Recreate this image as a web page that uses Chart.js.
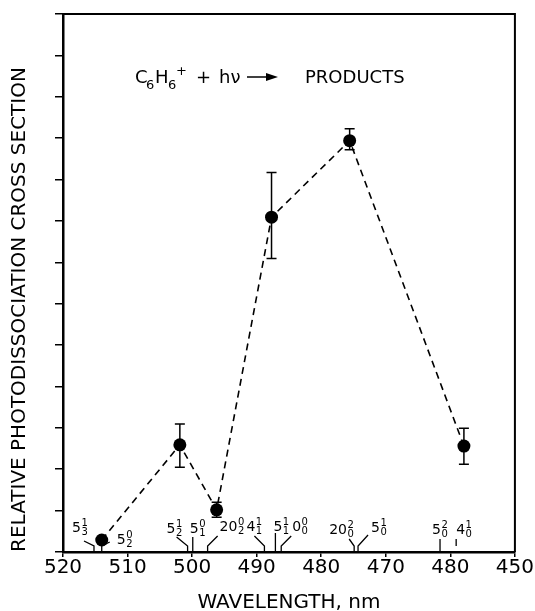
<!DOCTYPE html>
<html>
<head>
<meta charset="utf-8">
<script src="https://cdn.jsdelivr.net/npm/chart.js@4.4.1/dist/chart.umd.min.js"></script>
<style>
  html, body { margin: 0; padding: 0; background: #fff; }
  #wrap { width: 535px; height: 611px; }
</style>
</head>
<body>
<div id="wrap"><canvas id="chart" width="535" height="611"></canvas></div>
<script>

// =========================
// DATA
// =========================

const wavelengths = [514.0, 501.9, 496.2, 487.7, 475.6, 457.9];

const crossSection = [0.29, 2.59, 1.02, 8.09, 9.94, 2.56];

const errLow = [null, 2.05, 0.84, 7.09, 9.72, 2.12];

const errHigh = [null, 3.09, 1.20, 9.17, 10.23, 2.99];

const xTickValues = [520, 510, 500, 490, 480, 470, 460, 450];

// as printed in the figure (the 460 tick reads "480")
const xTickLabels = ['520', '510', '500', '490', '480', '470', '480', '450'];

// vibronic band assignments marked along the axis
const bandWavelengths = [515.2, 514.0, 500.7, 499.9, 497.6, 488.8, 487.1, 486.2, 474.9, 474.3, 461.6, 459.1];

const bandBase  = ['5', '5', '5', '5', '20', '4', '5', '0', '20', '5', '5', '4'];
const bandUpper = ['1', '0', '1', '0', '0',  '1', '1', '0', '2',  '1', '2', '1'];
const bandLower = ['3', '2', '2', '1', '2',  '1', '1', '0', '0',  '0', '0', '0'];


// =========================
// LAYOUT OF BAND LABELS
// [leader dx, leader top, label dx, label baseline] (px from axis)
// =========================

const bandLayout = [
  [-10, -11, -22, -20],
  [  8, -10,  15,  -8],
  [-11, -15, -21, -19],
  [  0, -15,  -3, -19],
  [ 10, -16,  12, -21],
  [-10, -16, -18, -21],
  [  0, -19,  -2, -21],
  [ 10, -16,  11, -21],
  [ -5, -13, -25, -18],
  [ 10, -17,  13, -20],
  [  0, -13,  -8, -18],
  [  0, -13,   0, -18]
];

const FONT = "'DejaVu Sans', sans-serif";

Chart.defaults.font.family = FONT;
Chart.defaults.color = '#000';


// =========================
// PLUGINS
// =========================

const frame = {
  id: 'frame',
  afterDraw(chart) {
    const {ctx, chartArea: a} = chart;
    ctx.save();
    ctx.strokeStyle = '#000';
    ctx.lineWidth = 2;
    ctx.beginPath();
    ctx.moveTo(a.left, a.top);
    ctx.lineTo(a.right, a.top);
    ctx.lineTo(a.right, a.bottom);
    ctx.stroke();
    ctx.restore();
  }
};

const errorBars = {
  id: 'errorBars',
  afterDatasetsDraw(chart) {
    const {ctx, scales: {x, y}} = chart;
    ctx.save();
    ctx.strokeStyle = '#000';
    ctx.lineWidth = 1.5;
    wavelengths.forEach((w, i) => {
      if (errLow[i] === null) return;
      const px = x.getPixelForValue(w);
      const top = y.getPixelForValue(errHigh[i]);
      const bot = y.getPixelForValue(errLow[i]);
      ctx.beginPath();
      ctx.moveTo(px, top);
      ctx.lineTo(px, bot);
      ctx.moveTo(px - 5, top);
      ctx.lineTo(px + 5, top);
      ctx.moveTo(px - 5, bot);
      ctx.lineTo(px + 5, bot);
      ctx.stroke();
    });
    ctx.restore();
  }
};

const bands = {
  id: 'bands',
  afterDraw(chart) {
    const {ctx, chartArea: a, scales: {x}} = chart;
    ctx.save();
    ctx.strokeStyle = '#000';
    ctx.fillStyle = '#000';
    ctx.lineWidth = 1.3;
    ctx.textBaseline = 'alphabetic';
    ctx.textAlign = 'left';

    bandWavelengths.forEach((w, i) => {
      const bx = x.getPixelForValue(w);
      const [ldx, ltop, tdx, tbase] = bandLayout[i];
      const start = i === 11 ? a.bottom - 6 : a.bottom - 1;

      ctx.beginPath();
      ctx.moveTo(bx, start);
      if (ldx === 0) {
        ctx.lineTo(bx, a.bottom + ltop);
      } else {
        ctx.lineTo(bx, a.bottom - 6);
        ctx.lineTo(bx + ldx, a.bottom + ltop);
      }
      ctx.stroke();

      const tx = bx + tdx;
      const ty = a.bottom + tbase;
      ctx.font = '14px ' + FONT;
      ctx.fillText(bandBase[i], tx, ty);
      const bw = ctx.measureText(bandBase[i]).width;
      ctx.font = '10px ' + FONT;
      ctx.fillText(bandUpper[i], tx + bw + 0.5, ty - 6);
      ctx.fillText(bandLower[i], tx + bw + 0.5, ty + 3);
    });

    ctx.restore();
  }
};

const reaction = {
  id: 'reaction',
  afterDraw(chart) {
    const {ctx, chartArea: a} = chart;
    const x0 = a.left + 72;
    const base = a.top + 69;
    ctx.save();
    ctx.fillStyle = '#000';
    ctx.strokeStyle = '#000';
    ctx.textBaseline = 'alphabetic';
    ctx.textAlign = 'left';

    const big = '18px ' + FONT;
    const small = '13px ' + FONT;

    ctx.font = big;
    ctx.fillText('C', x0, base);
    ctx.font = small;
    ctx.fillText('6', x0 + 11, base + 6);
    ctx.font = big;
    ctx.fillText('H', x0 + 20, base);
    ctx.font = small;
    ctx.fillText('6', x0 + 33, base + 6);
    ctx.fillText('+', x0 + 41, base - 8);
    ctx.font = big;
    ctx.fillText('+', x0 + 61, base);
    ctx.fillText('h\u03bd', x0 + 84, base);

    // arrow
    const ay = base - 6;
    ctx.lineWidth = 1.5;
    ctx.beginPath();
    ctx.moveTo(x0 + 112, ay);
    ctx.lineTo(x0 + 134, ay);
    ctx.stroke();
    ctx.beginPath();
    ctx.moveTo(x0 + 143, ay);
    ctx.lineTo(x0 + 131, ay - 4);
    ctx.lineTo(x0 + 131, ay + 4);
    ctx.closePath();
    ctx.fill();

    ctx.fillText('PRODUCTS', x0 + 170, base);
    ctx.restore();
  }
};


// =========================
// CHART
// =========================

new Chart(document.getElementById('chart'), {

  type: 'scatter',

  data: {
    datasets: [{
      data: wavelengths.map((w, i) => ({x: w, y: crossSection[i]})),
      showLine: true,
      borderColor: '#000',
      borderWidth: 1.6,
      borderDash: [7, 5],
      pointRadius: 6.5,
      pointBackgroundColor: '#000',
      pointBorderWidth: 0
    }]
  },

  options: {
    responsive: false,
    animation: false,
    layout: {
      padding: {top: 14, right: 19, left: 8, bottom: 0}
    },
    plugins: {
      legend: {display: false},
      tooltip: {enabled: false}
    },
    scales: {
      x: {
        type: 'linear',
        reverse: true,
        min: 450,
        max: 520,
        afterBuildTicks: scale => {
          scale.ticks = xTickValues.map(v => ({value: v}));
        },
        ticks: {
          callback: v => xTickLabels[xTickValues.indexOf(v)],
          font: {size: 20, lineHeight: 1},
          padding: 1,
          maxRotation: 0,
          autoSkip: false
        },
        grid: {
          drawOnChartArea: false,
          tickLength: 5,
          color: '#000',
          lineWidth: 1.5
        },
        border: {color: '#000', width: 2.5},
        title: {
          display: true,
          text: 'WAVELENGTH, nm',
          font: {size: 20, lineHeight: 0.8},
          padding: {top: 16, bottom: 0}
        }
      },
      y: {
        min: 0,
        max: 13,
        ticks: {stepSize: 1, display: false},
        grid: {
          drawOnChartArea: false,
          tickLength: 8,
          color: '#000',
          lineWidth: 1.5
        },
        border: {color: '#000', width: 2.5},
        title: {
          display: true,
          text: 'RELATIVE PHOTODISSOCIATION CROSS SECTION',
          align: 'start',
          font: {size: 20, lineHeight: 1.2},
          padding: {top: 0, bottom: 23}
        }
      }
    }
  },

  plugins: [frame, errorBars, bands, reaction]
});

</script>
</body>
</html>
